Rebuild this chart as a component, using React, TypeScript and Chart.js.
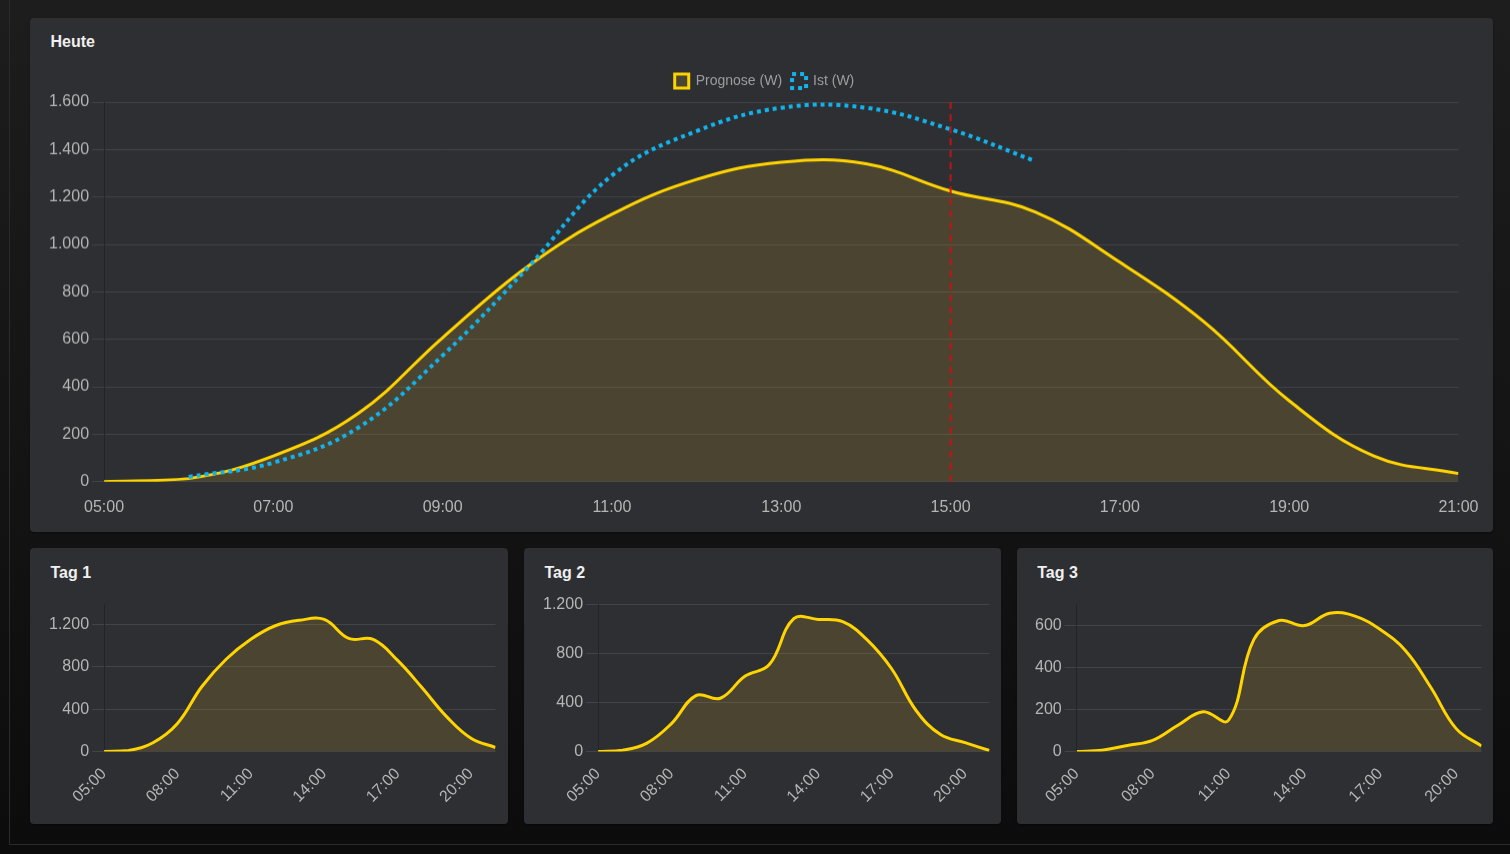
import React, { useEffect, useRef } from 'react';
import { Chart, registerables } from 'chart.js';

Chart.register(...registerables);

// ---------- data ----------
const HOURS = ['05:00', '06:00', '07:00', '08:00', '09:00', '10:00', '11:00', '12:00', '13:00', '14:00', '15:00', '16:00', '17:00', '18:00', '19:00', '20:00', '21:00'];
const NOW = '15:00';
const HEUTE_PROGNOSE = [0, 13, 108, 287, 607, 906, 1127, 1274, 1347, 1340, 1225, 1137, 925, 672, 341, 108, 34];
const HEUTE_IST = [null, 20, 80, 227, 532, 900, 1291, 1478, 1576, 1576, 1485, 1351, null, null, null, null, null];
const TAG1 = [0, 10, 83, 265, 615, 875, 1062, 1190, 1242, 1250, 1070, 1060, 862, 603, 330, 125, 38];
const TAG2 = [0, 11, 69, 228, 457, 435, 614, 710, 1085, 1079, 1060, 912, 676, 335, 138, 72, 8];
const TAG3 = [0, 6, 29, 53, 125, 189, 149, 533, 624, 600, 659, 645, 581, 480, 305, 109, 26];
const LABEL_PROGNOSE = 'Prognose (W)';
const LABEL_IST = 'Ist (W)';

// ---------- styles ----------
const FONT = "'Liberation Sans', Arial, Helvetica, sans-serif";
const YELLOW = '#ffd400';
const FILL = 'rgba(232,187,31,0.15)';
const BLUE = '#12b4ee';
const RED = 'rgba(200,18,18,0.95)';
const GRID = 'rgba(255,255,255,0.1)';
const TICK = '#b6b6b6';

Chart.defaults.font.family = FONT;

const hourNum = (h: string) => parseInt(h.slice(0, 2), 10);
const toPoints = (vals: (number | null)[]) =>
  HOURS.map((h, i) => ({ x: hourNum(h), y: vals[i] })).filter((p) => p.y !== null) as { x: number; y: number }[];
const fmt = (v: number) => String(Math.round(v)).replace(/\B(?=(\d{3})+(?!\d))/g, '.');
const labelFor = (v: number) => HOURS.find((h) => hourNum(h) === v) ?? '';

const nowLine = {
  id: 'nowLine',
  afterDatasetsDraw(chart: any, _args: any, opts: any) {
    if (!opts || opts.at == null) return;
    const x = chart.scales.x.getPixelForValue(hourNum(opts.at));
    const { top, bottom } = chart.chartArea;
    const ctx = chart.ctx;
    ctx.save();
    ctx.strokeStyle = RED;
    ctx.lineWidth = 2;
    ctx.setLineDash([7, 5]);
    ctx.beginPath();
    ctx.moveTo(x, top);
    ctx.lineTo(x, bottom);
    ctx.stroke();
    ctx.restore();
  },
};

const legendGap = {
  id: 'legendGap',
  beforeInit(chart: any) {
    if (!chart.legend) return;
    const orig = chart.legend.fit;
    chart.legend.fit = function fit() {
      orig.call(this);
      this.height += 4;
    };
  },
};

type ChartProps = {
  prognose: number[];
  ist?: (number | null)[];
  yMax: number;
  yStep: number;
  xStep: number;
  rotate: boolean;
  legend: boolean;
  now?: string;
};

function LineChart({ prognose, ist, yMax, yStep, xStep, rotate, legend, now }: ChartProps) {
  const ref = useRef<HTMLCanvasElement>(null);
  useEffect(() => {
    if (!ref.current) return;
    const datasets: any[] = [
      {
        label: LABEL_PROGNOSE,
        data: toPoints(prognose),
        borderColor: YELLOW,
        backgroundColor: FILL,
        borderWidth: 3,
        fill: 'origin',
        tension: 0.4,
        pointRadius: 0,
        order: 1,
      },
    ];
    if (ist) {
      datasets.push({
        label: LABEL_IST,
        data: toPoints(ist),
        borderColor: BLUE,
        backgroundColor: 'rgba(0,0,0,0)',
        borderWidth: 4,
        borderDash: [4, 4],
        borderCapStyle: 'butt',
        fill: false,
        tension: 0.4,
        pointRadius: 0,
        order: 0,
      });
    }
    const tickHours = HOURS.filter((_, i) => i % xStep === 0).map(hourNum);
    const chart = new Chart(ref.current, {
      type: 'line',
      data: { datasets },
      plugins: [nowLine, legendGap],
      options: {
        animation: false,
        responsive: true,
        maintainAspectRatio: false,
        layout: { padding: 0 },
        plugins: {
          legend: {
            display: legend,
            position: 'top',
            labels: {
              color: '#9e9e9e',
              font: { size: 14, family: FONT },
              boxWidth: 14,
              boxHeight: 14,
              padding: 10,
              sort: (a: any, b: any) => a.datasetIndex - b.datasetIndex,
            },
          },
          tooltip: { enabled: false },
          nowLine: { at: now ?? null },
        } as any,
        scales: {
          x: {
            type: 'linear',
            min: hourNum(HOURS[0]),
            max: hourNum(HOURS[HOURS.length - 1]),
            afterBuildTicks: (axis: any) => {
              axis.ticks = tickHours.map((value) => ({ value }));
            },
            grid: { display: false, drawTicks: true, tickLength: 12 },
            border: { display: false },
            ticks: {
              autoSkip: false,
              color: TICK,
              font: { size: 16, family: FONT },
              padding: rotate ? 1 : 4.5,
              minRotation: rotate ? 45 : 0,
              maxRotation: rotate ? 45 : 0,
              callback: (v: any) => labelFor(Number(v)),
            },
          },
          y: {
            min: 0,
            max: yMax,
            grid: { color: GRID, tickLength: 12 },
            border: { display: true, color: 'rgba(0,0,0,0.22)', width: 1 },
            ticks: {
              stepSize: yStep,
              includeBounds: false,
              color: TICK,
              font: { size: 16, family: FONT },
              padding: 3,
              callback: (v: any) => fmt(Number(v)),
            },
          },
        },
      } as any,
    });
    return () => chart.destroy();
  }, []);
  return <canvas ref={ref} />;
}

const panelStyle = (left: number, top: number, width: number, height: number): React.CSSProperties => ({
  position: 'absolute',
  left,
  top,
  width,
  height,
  background: '#2e2f33',
  borderRadius: 4,
  boxShadow: '0 1px 2px rgba(0,0,0,0.35)',
});

const titleStyle: React.CSSProperties = {
  position: 'absolute',
  left: 20.5,
  top: 14.5,
  fontFamily: FONT,
  fontWeight: 'bold',
  fontSize: 16,
  lineHeight: '19px',
  color: '#f0f0f0',
};

function Panel({ left, top, width, height, title, box, children }: any) {
  return (
    <div style={panelStyle(left, top, width, height)}>
      <div style={titleStyle}>{title}</div>
      <div style={{ position: 'absolute', left: box.left, top: box.top, width: box.width, height: box.height }}>{children}</div>
    </div>
  );
}

export default function App() {
  const small = { left: 15.5, top: 43.4, width: 451, height: 215.4 };
  return (
    <div
      style={{
        position: 'fixed',
        left: 0,
        top: 0,
        width: 1510,
        height: 854,
        overflow: 'hidden',
        background: 'linear-gradient(#1d1d1d, #0c0c0c)',
      }}
    >
      <div
        style={{
          position: 'absolute',
          left: 9,
          top: -2,
          width: 1520,
          height: 847,
          border: '1px solid #2a2a2a',
          boxSizing: 'border-box',
        }}
      />
      <Panel left={30} top={17.7} width={1463.3} height={514} title="Heute" box={{ left: 16, top: 46.3, width: 1437, height: 456.9 }}>
        <LineChart prognose={HEUTE_PROGNOSE} ist={HEUTE_IST} yMax={1600} yStep={200} xStep={2} rotate={false} legend={true} now={NOW} />
      </Panel>
      <Panel left={30} top={548.3} width={477.7} height={276} title="Tag 1" box={small}>
        <LineChart prognose={TAG1} yMax={1390} yStep={400} xStep={3} rotate={true} legend={false} />
      </Panel>
      <Panel left={524} top={548.3} width={477} height={276} title="Tag 2" box={small}>
        <LineChart prognose={TAG2} yMax={1200} yStep={400} xStep={3} rotate={true} legend={false} />
      </Panel>
      <Panel left={1016.7} top={548.3} width={476.6} height={276} title="Tag 3" box={small}>
        <LineChart prognose={TAG3} yMax={700} yStep={200} xStep={3} rotate={true} legend={false} />
      </Panel>
    </div>
  );
}
